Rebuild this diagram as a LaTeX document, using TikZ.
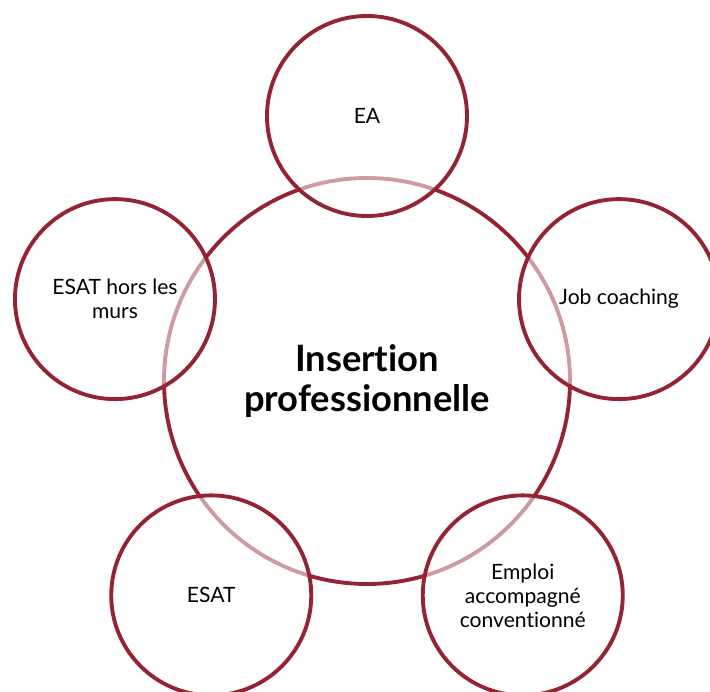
\documentclass[tikz,border=0pt]{standalone}
\usepackage{fontspec}
\setmainfont{Lato}[Ligatures=NoCommon]
\usetikzlibrary{calc}
\definecolor{wine}{RGB}{148,35,52}
\tikzset{
  ring/.style={circle, draw=wine, line width=3.3pt, minimum size=6cm, inner sep=0pt,
    fill=white, fill opacity=0.55, text opacity=1, align=center, font=\fontsize{18}{20.5}\selectfont},
  hub/.style={circle, draw=wine, line width=3.3pt, minimum size=12.18cm, inner sep=0pt,
    align=center, font=\fontsize{31}{34}\selectfont\bfseries}
}
\begin{document}
\begin{tikzpicture}[x=0.03cm, y=0.03cm]
            \useasboundingbox (0,0) rectangle (710,691);
            \node[hub] (core) at (367,310) {Insertion\\professionnelle};
            \node[ring] (ea) at ($(core)+(90:265)$) {EA};
            \node[ring] (job) at ($(core)+(18:265)$) {Job coaching};
            \node[ring] (emploi) at ($(core)+(-54:265)$) {Emploi\\accompagné\\conventionné};
            \node[ring] (esat) at ($(core)+(-126:265)$) {ESAT};
            \node[ring] (murs) at ($(core)+(162:265)$) {ESAT hors les\\murs};
        \end{tikzpicture}
\end{document}
